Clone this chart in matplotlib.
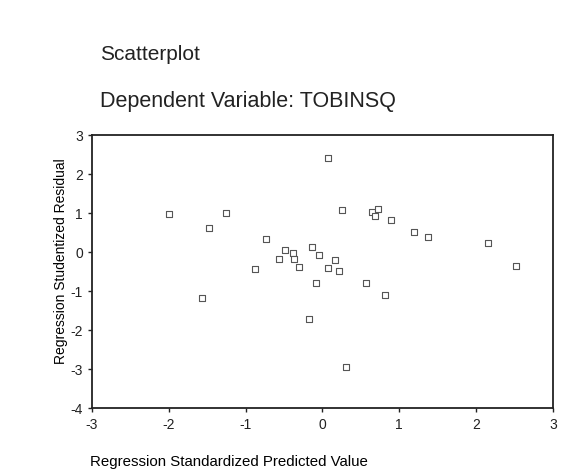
import matplotlib
matplotlib.use("Agg")
import matplotlib.pyplot as plt

# standardized predicted value (x) vs studentized residual (y)
predicted = [-1.99, -1.47, -1.26, -0.73, -0.87, -0.57, -0.48, -0.38, -0.37, -0.30,
             -0.13, -0.04, 0.07, 0.07, 0.25, 0.64, 0.68, 0.72, 0.90, 1.19,
             1.37, 2.16, 2.52, 0.17, 0.22, -1.56, -0.08, -0.18, 0.57, 0.82, 0.31]
residual = [0.98, 0.60, 1.00, 0.34, -0.44, -0.18, 0.05, -0.02, -0.17, -0.39,
            0.13, -0.07, -0.42, 2.40, 1.08, 1.03, 0.93, 1.09, 0.82, 0.51,
            0.39, 0.22, -0.37, -0.21, -0.48, -1.18, -0.79, -1.72, -0.79, -1.11, -2.96]

x_ticks = [-3, -2, -1, 0, 1, 2, 3]
y_ticks = [-4, -3, -2, -1, 0, 1, 2, 3]

plt.rcParams["font.family"] = ["Liberation Sans", "DejaVu Sans"]
plt.rcParams["axes.unicode_minus"] = False

fig = plt.figure(figsize=(5.85, 4.77), dpi=100)
ax = fig.add_axes([0.157, 0.143, 0.788, 0.572])

ax.scatter(predicted, residual, marker="s", s=24, facecolors="white",
           edgecolors="#555555", linewidths=0.8, zorder=3)

ax.set_xlim(-3, 3)
ax.set_ylim(-4, 3)
ax.set_xticks(x_ticks)
ax.set_yticks(y_ticks)
ax.tick_params(labelsize=10, length=3, width=1, direction="out", colors="#222222")
for s in ax.spines.values():
    s.set_linewidth(1.3)
    s.set_color("#222222")

ax.set_xlabel("Regression Standardized Predicted Value", fontsize=10.8, labelpad=17, x=0.297)
ax.set_ylabel("Regression Studentized Residual", fontsize=10, labelpad=2, y=0.54)

fig.text(0.171, 0.885, "Scatterplot", fontsize=15, va="center", color="#222222")
fig.text(0.171, 0.788, "Dependent Variable: TOBINSQ", fontsize=15.5, va="center", color="#222222")

fig.savefig("out.png", dpi=100)
